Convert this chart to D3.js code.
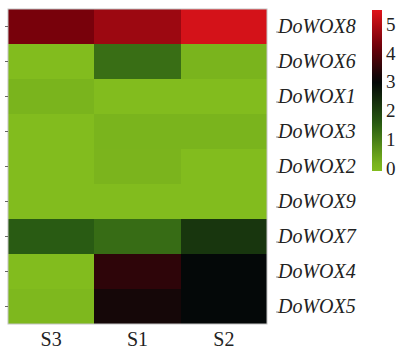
<!DOCTYPE html>
<html>
<head>
<meta charset="utf-8">
<script src="https://cdn.jsdelivr.net/npm/d3@7"></script>
<style>
  html, body { margin: 0; padding: 0; background: #fff; }
  svg { display: block; }
  .lbl { font-family: "Liberation Serif", "Times New Roman", Times, Tinos, "Noto Serif", "DejaVu Serif", serif; fill: #222; }
</style>
</head>
<body>
<svg id="chart" width="400" height="350"></svg>
<script>
// Expression heatmap of DoWOX genes across three samples
const genes = ["DoWOX8", "DoWOX6", "DoWOX1", "DoWOX3", "DoWOX2", "DoWOX9", "DoWOX7", "DoWOX4", "DoWOX5"];
const samples = ["S3", "S1", "S2"];
const valuesS3 = [4.34, 0, 0.13, 0, 0, 0, 1.55, 0, 0.06];
const valuesS1 = [4.74, 1.24, 0, 0.13, 0.12, 0, 1.28, 3.49, 3.2];
const valuesS2 = [5.37, 0.13, 0, 0.13, 0, 0, 2.2, 3.0, 3.0];
const legendTicks = [0, 1, 2, 3, 4, 5];

const seriesBySample = { S3: valuesS3, S1: valuesS1, S2: valuesS2 };
const cells = [];
samples.forEach(s => {
  genes.forEach((g, i) => cells.push({ sample: s, gene: g, value: seriesBySample[s][i] }));
});

const svg = d3.select("#chart");

const x = d3.scaleBand().domain(samples).range([8, 267]);
const y = d3.scaleBand().domain(genes).range([9, 324]);

// green - black - red palette
const color = d3.scaleLinear()
  .domain([0, 1.5, 3, 4.25, 5.5])
  .range(["#82bc1e", "#2a5e13", "#040808", "#70000a", "#e0141b"])
  .interpolate(d3.interpolateRgb)
  .clamp(true);

// heatmap cells
svg.append("g")
  .selectAll("rect")
  .data(cells)
  .join("rect")
  .attr("x", d => x(d.sample))
  .attr("y", d => y(d.gene))
  .attr("width", x.bandwidth())
  .attr("height", y.bandwidth())
  .attr("fill", d => color(d.value))
  .attr("shape-rendering", "crispEdges");

// outline around the matrix
svg.append("rect")
  .attr("x", 8).attr("y", 9)
  .attr("width", 259).attr("height", 315)
  .attr("fill", "none")
  .attr("stroke", "#c4c4c4")
  .attr("stroke-width", 1);

// small row ticks on both sides
svg.append("g")
  .selectAll("line")
  .data(genes)
  .join("line")
  .attr("x1", 5).attr("x2", 8)
  .attr("y1", d => y(d) + y.bandwidth() / 2)
  .attr("y2", d => y(d) + y.bandwidth() / 2)
  .attr("stroke", "#666").attr("stroke-width", 1);

svg.append("g")
  .selectAll("line")
  .data(genes)
  .join("line")
  .attr("x1", 276).attr("x2", 279)
  .attr("y1", d => y(d) + y.bandwidth() / 2 + 5.5)
  .attr("y2", d => y(d) + y.bandwidth() / 2 + 5.5)
  .attr("stroke", "#888").attr("stroke-width", 1);

// gene labels
svg.append("g")
  .selectAll("text")
  .data(genes)
  .join("text")
  .attr("class", "lbl")
  .attr("x", 278)
  .attr("y", d => y(d) + y.bandwidth() / 2 + 6.5)
  .attr("font-style", "italic")
  .attr("font-size", 20)
  .text(d => d);

// sample labels
svg.append("g")
  .selectAll("text")
  .data(samples)
  .join("text")
  .attr("class", "lbl")
  .attr("x", d => x(d) + x.bandwidth() / 2)
  .attr("y", 346)
  .attr("text-anchor", "middle")
  .attr("font-size", 20)
  .text(d => d);

// colour key
const ky = d3.scaleLinear().domain([-0.1, 5.5]).range([171, 10]);
const defs = svg.append("defs");
const grad = defs.append("linearGradient")
  .attr("id", "keyGrad")
  .attr("x1", 0).attr("y1", 1).attr("x2", 0).attr("y2", 0);
const stops = d3.range(0, 1.0001, 0.05);
grad.selectAll("stop")
  .data(stops)
  .join("stop")
  .attr("offset", t => t)
  .attr("stop-color", t => color(-0.1 + t * 5.6));

svg.append("rect")
  .attr("x", 372).attr("y", ky(5.5))
  .attr("width", 10)
  .attr("height", ky(-0.1) - ky(5.5))
  .attr("fill", "url(#keyGrad)");

svg.append("g")
  .selectAll("text")
  .data(legendTicks)
  .join("text")
  .attr("class", "lbl")
  .attr("x", 386)
  .attr("y", d => ky(d) + 6.5)
  .attr("font-size", 19)
  .text(d => d);
</script>
</body>
</html>
